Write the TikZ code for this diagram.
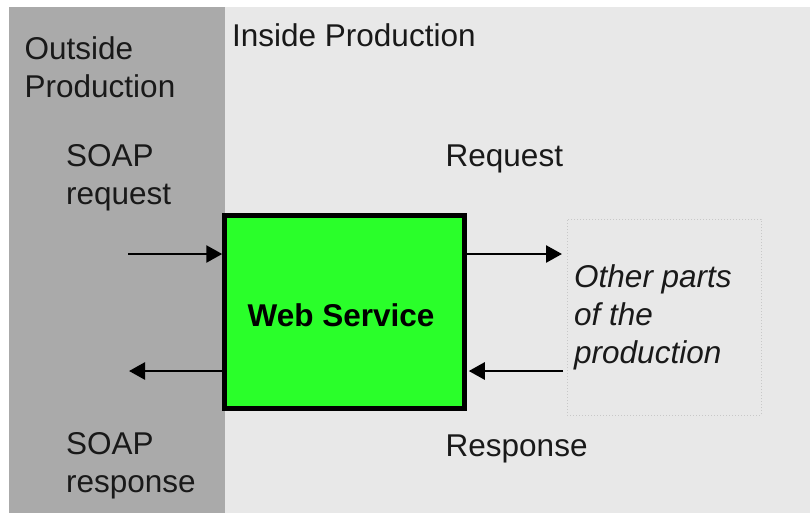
\documentclass[tikz,border=0pt]{standalone}
\usepackage{fontspec}
\setmainfont{Liberation Sans}
\usetikzlibrary{arrows.meta}
\definecolor{outgray}{RGB}{170,170,170}
\definecolor{ingray}{RGB}{232,232,232}
\definecolor{wsgreen}{RGB}{42,255,42}
\definecolor{dotgray}{RGB}{200,200,200}
\tikzset{
  lbl/.style={inner sep=0pt, anchor=base west, align=left,
    font=\fontsize{31.5}{37.5}\selectfont, text=black!90},
  arr/.style={line width=2.6pt, -{Triangle[length=16pt,width=17pt]}},
  wsbox/.style={draw=black, line width=4.5pt, fill=wsgreen, minimum width=240pt,
    minimum height=193pt, inner sep=0pt},
  dotbox/.style={draw=dotgray, dotted, line width=1pt, minimum width=194pt,
    minimum height=196pt, inner sep=0pt}
}
\begin{document}
\begin{tikzpicture}[x=1pt,y=-1pt]
\useasboundingbox (0,0) rectangle (810,515);
\fill[white] (0,0) rectangle (810,515);
\fill[ingray] (9,7) rectangle (810,513);
\fill[outgray] (9,7) rectangle (225,513);

\node[wsbox] (ws) at (344.5,312) {};
\node[inner sep=0pt, anchor=base, font=\fontsize{31.5}{37.5}\selectfont\bfseries] (wstext) at (341,326) {Web Service};
\node[dotbox] (other) at (664,317) {};

\node[lbl] (outside) at (24.5,97) {Outside\\Production};
\node[lbl] (inside) at (232,46) {Inside Production};
\node[lbl] (soapreq) at (66,204) {SOAP\\request};
\node[lbl] (request) at (445.5,166) {Request};
\node[lbl, font=\fontsize{31.5}{38}\selectfont\itshape] (othertext) at (574,363) {Other parts\\of the\\production};
\node[lbl] (soapresp) at (66,492) {SOAP\\response};
\node[lbl] (response) at (445.5,456) {Response};

\coordinate (inL) at (128,254);
\coordinate (outL) at (129,371);
\coordinate (reqR) at (562,254);
\coordinate (respR) at (563,371);

\draw[arr] (inL) -- (inL -| ws.west);
\draw[arr] (outL -| ws.west) -- (outL);
\draw[arr] (reqR -| ws.east) -- (reqR);
\draw[arr] (respR) -- ([xshift=2pt]respR -| ws.east);
\end{tikzpicture}
\end{document}
